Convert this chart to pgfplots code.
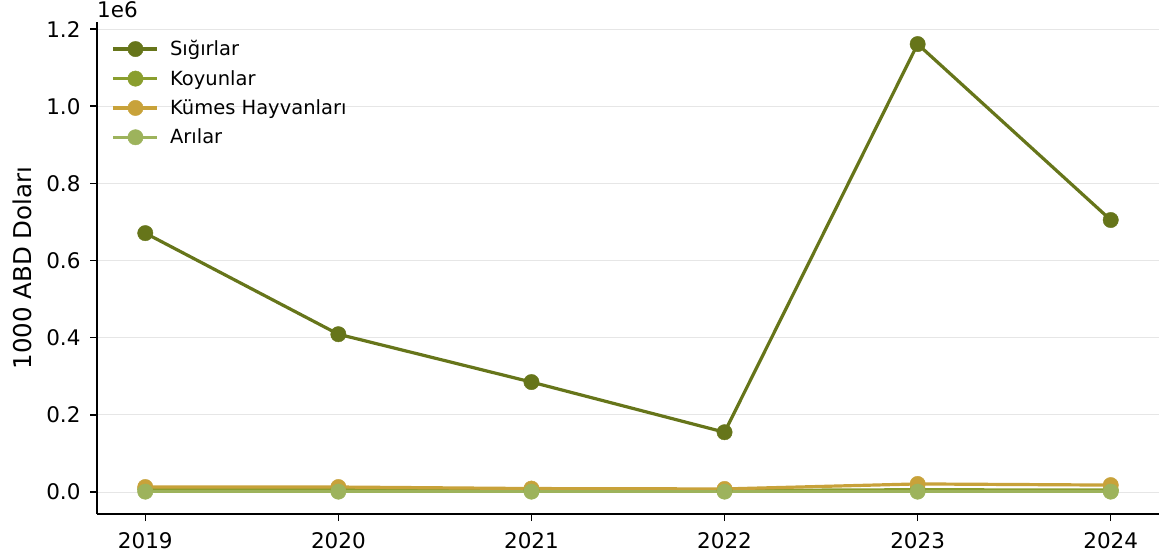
\documentclass[border=0pt]{standalone}
\usepackage{pgfplots}
\pgfplotsset{compat=1.18}
\usetikzlibrary{calc}
\usepackage{fontspec}
\setmainfont{DejaVu Sans}
\definecolor{c1}{HTML}{66751A}
\definecolor{c2}{HTML}{8A9E2E}
\definecolor{c3}{HTML}{C8A23A}
\definecolor{c4}{HTML}{9DB35C}
\definecolor{gridc}{HTML}{E6E6E6}
\begin{document}
\begin{tikzpicture}
\begin{axis}[
  width=1062pt, height=492.3pt, scale only axis,
  xmin=2018.75, xmax=2024.25,
  ymin=-0.057, ymax=1.219,
  axis x line*=bottom, axis y line*=left,
  axis line style={line width=1.4pt},
  tick align=outside,
  major tick length=7pt,
  tick style={line width=1.4pt, black},
  xtick={2019,2020,2021,2022,2023,2024},
  xticklabels={2019,2020,2021,2022,2023,2024},
  ytick={0,0.2,0.4,0.6,0.8,1.0,1.2},
  yticklabel style={/pgf/number format/.cd, fixed, fixed zerofill, precision=1, /tikz/xshift=-6pt},
  xticklabel style={yshift=-8pt},
  /pgf/number format/assume math mode=true,
  ymajorgrids, grid style={gridc, line width=1pt},
  tick label style={font=\fontsize{21.5}{24}\selectfont},
  ylabel={1000 ABD Doları},
  ylabel style={font=\fontsize{24.5}{27}\selectfont, at={(ticklabel cs:0.5)}, yshift=8pt},
  legend style={draw=none, fill=none, at={(0.011,0.97)}, anchor=north west,
    font=\fontsize{19.5}{22}\selectfont, row sep=9pt},
  legend cell align=left,
  legend image code/.code={\draw[mark repeat=2,mark phase=2] plot coordinates {(0pt,0pt)(22pt,0pt)(44pt,0pt)};\path (53pt,0pt);},
  clip=false,
]
\addplot[c1, line width=3.2pt, mark=*, mark size=7.7pt, mark options={fill=c1, draw=c1, line width=0.4pt}] coordinates {(2019,0.671)(2020,0.409)(2021,0.285)(2022,0.155)(2023,1.161)(2024,0.705)};
\addplot[c2, line width=3.2pt, mark=*, mark size=7.7pt, mark options={fill=c2, draw=c2, line width=0.4pt}] coordinates {(2019,0.007)(2020,0.007)(2021,0.005)(2022,0.004)(2023,0.006)(2024,0.005)};
\addplot[c3, line width=3.2pt, mark=*, mark size=7.7pt, mark options={fill=c3, draw=c3, line width=0.4pt}] coordinates {(2019,0.013)(2020,0.013)(2021,0.009)(2022,0.008)(2023,0.021)(2024,0.018)};
\addplot[c4, line width=3.2pt, mark=*, mark size=7.7pt, mark options={fill=c4, draw=c4, line width=0.4pt}] coordinates {(2019,0.001)(2020,0.001)(2021,0.001)(2022,0.001)(2023,0.001)(2024,0.001)};
\legend{Sığırlar, Koyunlar, Kümes Hayvanları, Arılar}
\node[anchor=base west, inner sep=0pt, font=\fontsize{21.5}{24}\selectfont] at ([yshift=4pt]rel axis cs:0,1) {1e6};
\coordinate (LL) at (rel axis cs:0,0);
\coordinate (UR) at (rel axis cs:1,1);
\end{axis}
\pgfresetboundingbox
\path ($(LL)+(-97pt,-45pt)$) rectangle ($(UR)+(0pt,21.7pt)$);
\end{tikzpicture}
\end{document}
